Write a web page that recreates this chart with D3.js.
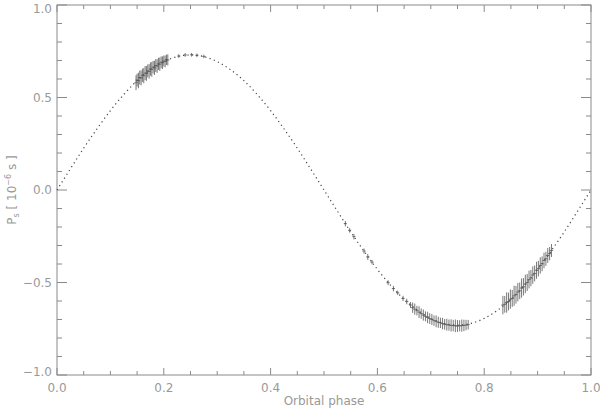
<!DOCTYPE html>
<html>
<head>
<meta charset="utf-8">
<script src="https://cdn.jsdelivr.net/npm/d3@7"></script>
<style>
  html, body { margin: 0; padding: 0; background: #fff; }
  svg text { font-family: "DejaVu Sans", sans-serif; fill: #999; }
</style>
</head>
<body>
<svg id="chart" width="600" height="413"></svg>
<script>
// ── Model curve (every 0.025 in phase) ──
const modelPhase = d3.range(0, 41).map(i => i / 40);
const modelValue = [
   0.000,  0.114,  0.226,  0.331,  0.429,  0.516,  0.591,  0.650,  0.694,  0.721,
   0.730,  0.721,  0.694,  0.650,  0.591,  0.516,  0.429,  0.331,  0.226,  0.114,
   0.000, -0.114, -0.226, -0.331, -0.429, -0.516, -0.591, -0.650, -0.694, -0.721,
  -0.730, -0.721, -0.694, -0.650, -0.591, -0.516, -0.429, -0.331, -0.226, -0.114,
   0.000
];

// ── Measured points: phase, P_s, 1-sigma error ──
const obsPhase = [
  // first visit, near maximum
  0.148, 0.150, 0.1525, 0.155, 0.1575, 0.160, 0.1625, 0.165, 0.1675, 0.170,
  0.1725, 0.175, 0.1775, 0.180, 0.1825, 0.185, 0.1875, 0.190, 0.1925, 0.195,
  0.1975, 0.200, 0.2025, 0.205, 0.2075,
  0.228, 0.240, 0.252, 0.262, 0.275,
  // descending branch
  0.540, 0.548, 0.556, 0.575, 0.582, 0.590, 0.620, 0.630, 0.638, 0.648,
  0.655, 0.662,
  // near minimum
  0.666, 0.670, 0.674, 0.678, 0.682, 0.686, 0.690, 0.694, 0.698, 0.702,
  0.706, 0.710, 0.714, 0.718, 0.722, 0.726, 0.730, 0.734, 0.738, 0.742,
  0.746, 0.750, 0.754, 0.758, 0.762, 0.766, 0.770,
  // rising branch
  0.835, 0.8385, 0.842, 0.8455, 0.849, 0.8525, 0.856, 0.8595, 0.863, 0.8665,
  0.870, 0.8735, 0.877, 0.8805, 0.884, 0.8875, 0.891, 0.8945, 0.898, 0.9015,
  0.905, 0.9085, 0.912, 0.9155, 0.919, 0.9225, 0.926
];
const obsValue = [
  0.580, 0.594, 0.592, 0.608, 0.606, 0.620, 0.618, 0.632, 0.630, 0.644,
  0.641, 0.654, 0.652, 0.664, 0.660, 0.673, 0.670, 0.682, 0.680, 0.690,
  0.688, 0.697, 0.695, 0.704, 0.703,
  0.724, 0.730, 0.731, 0.728, 0.722,
  -0.182, -0.218, -0.252, -0.330, -0.362, -0.390, -0.501, -0.533, -0.556, -0.586,
  -0.603, -0.622,
  -0.636, -0.644, -0.652, -0.660, -0.668, -0.676, -0.683, -0.689, -0.695, -0.700,
  -0.706, -0.710, -0.715, -0.718, -0.722, -0.726, -0.728, -0.730, -0.732, -0.733,
  -0.734, -0.735, -0.734, -0.733, -0.732, -0.730, -0.728,
  -0.622, -0.618, -0.608, -0.603, -0.590, -0.586, -0.572, -0.566, -0.552, -0.545,
  -0.530, -0.523, -0.508, -0.500, -0.484, -0.476, -0.460, -0.451, -0.434, -0.425,
  -0.408, -0.399, -0.381, -0.372, -0.354, -0.344, -0.327
];
const obsError = [
  0.040, 0.035, 0.042, 0.038, 0.040, 0.036, 0.041, 0.038, 0.040, 0.035,
  0.039, 0.036, 0.040, 0.034, 0.038, 0.035, 0.037, 0.033, 0.036, 0.032,
  0.034, 0.030, 0.032, 0.028, 0.030,
  0.010, 0.010, 0.010, 0.010, 0.010,
  0.015, 0.012, 0.015, 0.014, 0.016, 0.012, 0.013, 0.015, 0.012, 0.014,
  0.015, 0.016,
  0.028, 0.030, 0.026, 0.032, 0.028, 0.030, 0.027, 0.031, 0.029, 0.030,
  0.028, 0.032, 0.030, 0.028, 0.031, 0.029, 0.032, 0.030, 0.033, 0.031,
  0.034, 0.032, 0.030, 0.033, 0.031, 0.028, 0.026,
  0.050, 0.045, 0.055, 0.048, 0.052, 0.046, 0.054, 0.048, 0.050, 0.045,
  0.052, 0.047, 0.050, 0.046, 0.048, 0.044, 0.047, 0.043, 0.046, 0.042,
  0.044, 0.040, 0.042, 0.038, 0.040, 0.036, 0.035
];

// ── Axes ──
const xMajor = [0, 0.2, 0.4, 0.6, 0.8, 1.0];
const yMajor = [-1.0, -0.5, 0.0, 0.5, 1.0];
const xLabel = 'Orbital phase';

const margin = { left: 57, right: 9, top: 5, bottom: 38 };
const W = 600, H = 413;
const iw = W - margin.left - margin.right;
const ih = H - margin.top - margin.bottom;

const x = d3.scaleLinear().domain([0, 1]).range([0, iw]);
const y = d3.scaleLinear().domain([-1, 1]).range([ih, 0]);

const svg = d3.select('#chart');
const g = svg.append('g').attr('transform', `translate(${margin.left},${margin.top})`);

const AX = '#8a8a8a';

// frame
g.append('rect')
  .attr('width', iw).attr('height', ih)
  .attr('fill', 'none').attr('stroke', AX).attr('stroke-width', 1);

// ticks on all four sides, IDL style
const xMinor = d3.range(0, 21).map(i => i / 20).filter(v => !xMajor.some(m => Math.abs(m - v) < 1e-9));
const yMinor = d3.range(-10, 11).map(i => i / 10).filter(v => !yMajor.some(m => Math.abs(m - v) < 1e-9));

function xTicks(vals, len) {
  g.selectAll(null).data(vals).join('line')
    .attr('x1', d => x(d)).attr('x2', d => x(d))
    .attr('y1', ih).attr('y2', ih - len)
    .attr('stroke', AX);
  g.selectAll(null).data(vals).join('line')
    .attr('x1', d => x(d)).attr('x2', d => x(d))
    .attr('y1', 0).attr('y2', len)
    .attr('stroke', AX);
}
function yTicks(vals, len) {
  g.selectAll(null).data(vals).join('line')
    .attr('x1', 0).attr('x2', len)
    .attr('y1', d => y(d)).attr('y2', d => y(d))
    .attr('stroke', AX);
  g.selectAll(null).data(vals).join('line')
    .attr('x1', iw).attr('x2', iw - len)
    .attr('y1', d => y(d)).attr('y2', d => y(d))
    .attr('stroke', AX);
}
xTicks(xMajor, 7);
xTicks(xMinor, 4);
yTicks(yMajor, 10);
yTicks(yMinor, 5);

// tick labels
g.selectAll(null).data(xMajor).join('text')
  .attr('x', d => x(d)).attr('y', ih + 17)
  .attr('text-anchor', 'middle')
  .attr('font-size', 12)
  .text(d => d3.format('.1f')(d));

// top label is kept inside the window, bottom one sits just above the axis
g.selectAll(null).data(yMajor).join('text')
  .attr('x', -5).attr('y', d => Math.min(Math.max(y(d) + 4, 8), ih + 1))
  .attr('text-anchor', 'end')
  .attr('font-size', 12)
  .text(d => d3.format('.1f')(d).replace('-', '\u2212'));

// axis titles
g.append('text')
  .attr('x', iw / 2).attr('y', ih + 30)
  .attr('text-anchor', 'middle')
  .attr('font-size', 12)
  .text(xLabel);

const yt = svg.append('text')
  .attr('transform', `translate(16,${margin.top + ih / 2}) rotate(-90)`)
  .attr('text-anchor', 'middle')
  .attr('font-size', 12);
yt.append('tspan').text('P');
yt.append('tspan').attr('font-size', 8).attr('dy', 3).text('s');
yt.append('tspan').attr('dy', -3).text(' [ 10');
yt.append('tspan').attr('font-size', 8).attr('dy', -5).text('\u22126');
yt.append('tspan').attr('dy', 5).text(' s ]');

// ── Model: dotted line ──
const line = d3.line()
  .x(d => x(d[0])).y(d => y(d[1]))
  .curve(d3.curveNatural);
g.append('path')
  .datum(modelPhase.map((p, i) => [p, modelValue[i]]))
  .attr('d', line)
  .attr('fill', 'none')
  .attr('stroke', '#444')
  .attr('stroke-width', 1.2)
  .attr('stroke-dasharray', '1.2,3.3');

// ── Observations: error bars with small phase ticks ──
const obs = obsPhase.map((p, i) => ({ p, v: obsValue[i], e: obsError[i] }));
const pts = g.selectAll('.obs').data(obs).join('g').attr('class', 'obs');
pts.append('line')
  .attr('x1', d => x(d.p)).attr('x2', d => x(d.p))
  .attr('y1', d => y(d.v - d.e)).attr('y2', d => y(d.v + d.e))
  .attr('stroke', '#555').attr('stroke-width', 0.8);
pts.append('line')
  .attr('x1', d => x(d.p - 0.003)).attr('x2', d => x(d.p + 0.003))
  .attr('y1', d => y(d.v)).attr('y2', d => y(d.v))
  .attr('stroke', '#555').attr('stroke-width', 0.8);
</script>
</body>
</html>
